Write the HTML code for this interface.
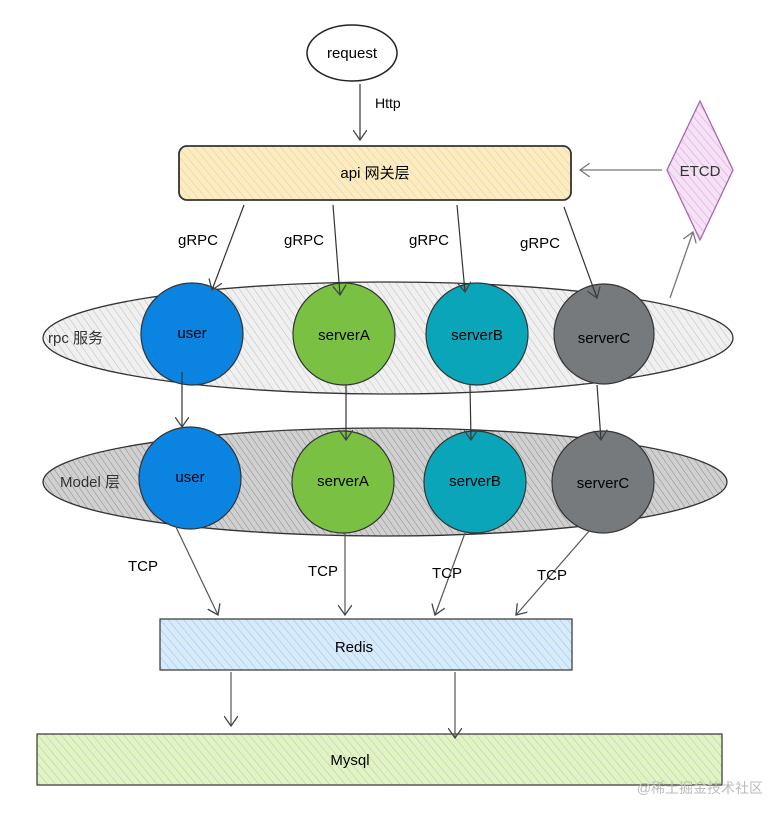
<!DOCTYPE html>
<html><head><meta charset="utf-8"><style>
html,body{margin:0;padding:0;background:#fff;}
svg{display:block;}
text{font-family:"Liberation Sans","Noto Sans CJK SC",sans-serif;}
</style></head><body>
<svg width="783" height="817" viewBox="0 0 783 817" xmlns="http://www.w3.org/2000/svg">
<defs>
<marker id="a" markerWidth="14" markerHeight="14" refX="10" refY="7" orient="auto" markerUnits="userSpaceOnUse">
<path d="M0,0 L10,7 L0,14" fill="none" stroke="#444" stroke-width="1.3"/></marker>
<marker id="g" markerWidth="14" markerHeight="14" refX="10" refY="7" orient="auto" markerUnits="userSpaceOnUse">
<path d="M0,0 L10,7 L0,14" fill="none" stroke="#777" stroke-width="1.3"/></marker>
<pattern id="h1" width="6" height="6" patternUnits="userSpaceOnUse" patternTransform="rotate(-35)">
<rect width="6" height="6" fill="#f0f0f0"/><line x1="0" y1="0" x2="0" y2="6" stroke="#bbb" stroke-width="1"/></pattern>
<pattern id="h2" width="5" height="5" patternUnits="userSpaceOnUse" patternTransform="rotate(-35)">
<rect width="5" height="5" fill="#d0d0d0"/><line x1="0" y1="0" x2="0" y2="5" stroke="#8a8a8a" stroke-width="1"/></pattern>
<pattern id="hy" width="6" height="6" patternUnits="userSpaceOnUse" patternTransform="rotate(-40)">
<rect width="6" height="6" fill="#fcecc4"/><line x1="0" y1="0" x2="0" y2="6" stroke="#f0cf8a" stroke-width="1.2"/></pattern>
<pattern id="hb" width="6" height="6" patternUnits="userSpaceOnUse" patternTransform="rotate(-40)">
<rect width="6" height="6" fill="#d8ebfa"/><line x1="0" y1="0" x2="0" y2="6" stroke="#9cc6ee" stroke-width="1.2"/></pattern>
<pattern id="hg" width="6" height="6" patternUnits="userSpaceOnUse" patternTransform="rotate(-40)">
<rect width="6" height="6" fill="#e2f2c8"/><line x1="0" y1="0" x2="0" y2="6" stroke="#b0da80" stroke-width="1.2"/></pattern>
<pattern id="hp" width="6" height="6" patternUnits="userSpaceOnUse" patternTransform="rotate(-40)">
<rect width="6" height="6" fill="#f6e2f6"/><line x1="0" y1="0" x2="0" y2="6" stroke="#dca6dc" stroke-width="1.2"/></pattern>
</defs>

<ellipse cx="352" cy="53" rx="45" ry="28" fill="#fff" stroke="#222" stroke-width="1.5"/>
<text x="352" y="58" font-size="15" text-anchor="middle">request</text>
<line x1="360" y1="84" x2="360" y2="140" stroke="#444" stroke-width="1.3" marker-end="url(#a)"/>
<text x="375" y="108" font-size="14">Http</text>

<rect x="179" y="146" width="392" height="54" rx="8" fill="url(#hy)" stroke="#333" stroke-width="1.8"/>
<text x="375" y="178" font-size="15" text-anchor="middle">api 网关层</text>

<polygon points="700,101 733,170 700,240 667,170" fill="url(#hp)" stroke="#aa66aa" stroke-width="1.3"/>
<text x="700" y="176" font-size="15" text-anchor="middle" fill="#333">ETCD</text>
<line x1="662" y1="170" x2="580" y2="170" stroke="#777" stroke-width="1.3" marker-end="url(#g)"/>

<text x="178" y="245" font-size="15">gRPC</text>
<text x="284" y="245" font-size="15">gRPC</text>
<text x="409" y="245" font-size="15">gRPC</text>
<text x="520" y="248" font-size="15">gRPC</text>

<ellipse cx="388" cy="338" rx="345" ry="56" fill="url(#h1)" stroke="#333" stroke-width="1.3"/>
<text x="48" y="343" font-size="15" fill="#333">rpc 服务</text>
<circle cx="192" cy="334" r="51" fill="#0a84e0" stroke="#333" stroke-width="1.2"/>
<text x="192" y="338" font-size="15" text-anchor="middle">user</text>
<circle cx="344" cy="334" r="51" fill="#7ac143" stroke="#333" stroke-width="1.2"/>
<text x="344" y="340" font-size="15" text-anchor="middle">serverA</text>
<circle cx="477" cy="334" r="51" fill="#0aa5b8" stroke="#333" stroke-width="1.2"/>
<text x="477" y="340" font-size="15" text-anchor="middle">serverB</text>
<circle cx="604" cy="334" r="50" fill="#777a7c" stroke="#333" stroke-width="1.2"/>
<text x="604" y="343" font-size="15" text-anchor="middle">serverC</text>

<ellipse cx="385" cy="482" rx="342" ry="54" fill="url(#h2)" stroke="#333" stroke-width="1.3"/>
<text x="60" y="487" font-size="15" fill="#333">Model 层</text>
<circle cx="190" cy="478" r="51" fill="#0a84e0" stroke="#333" stroke-width="1.2"/>
<text x="190" y="482" font-size="15" text-anchor="middle">user</text>
<circle cx="343" cy="482" r="51" fill="#7ac143" stroke="#333" stroke-width="1.2"/>
<text x="343" y="486" font-size="15" text-anchor="middle">serverA</text>
<circle cx="475" cy="482" r="51" fill="#0aa5b8" stroke="#333" stroke-width="1.2"/>
<text x="475" y="486" font-size="15" text-anchor="middle">serverB</text>
<circle cx="603" cy="482" r="51" fill="#777a7c" stroke="#333" stroke-width="1.2"/>
<text x="603" y="488" font-size="15" text-anchor="middle">serverC</text>

<line x1="244" y1="205" x2="212" y2="290" stroke="#333" stroke-width="1.2" marker-end="url(#a)"/>
<line x1="333" y1="205" x2="340" y2="295" stroke="#333" stroke-width="1.2" marker-end="url(#a)"/>
<line x1="457" y1="205" x2="465" y2="292" stroke="#333" stroke-width="1.2" marker-end="url(#a)"/>
<line x1="564" y1="207" x2="597" y2="298" stroke="#333" stroke-width="1.2" marker-end="url(#a)"/>
<line x1="670" y1="298" x2="693" y2="232" stroke="#777" stroke-width="1.3" marker-end="url(#g)"/>

<line x1="182" y1="372" x2="182" y2="427" stroke="#333" stroke-width="1.2" marker-end="url(#a)"/>
<line x1="346" y1="385" x2="346" y2="440" stroke="#333" stroke-width="1.2" marker-end="url(#a)"/>
<line x1="470" y1="385" x2="471" y2="440" stroke="#333" stroke-width="1.2" marker-end="url(#a)"/>
<line x1="597" y1="385" x2="601" y2="440" stroke="#333" stroke-width="1.2" marker-end="url(#a)"/>

<line x1="175" y1="525" x2="218" y2="615" stroke="#555" stroke-width="1.2" marker-end="url(#a)"/>
<line x1="345" y1="533" x2="345" y2="615" stroke="#555" stroke-width="1.2" marker-end="url(#a)"/>
<line x1="465" y1="533" x2="435" y2="615" stroke="#555" stroke-width="1.2" marker-end="url(#a)"/>
<line x1="590" y1="530" x2="516" y2="615" stroke="#555" stroke-width="1.2" marker-end="url(#a)"/>
<text x="128" y="571" font-size="15">TCP</text>
<text x="308" y="576" font-size="15">TCP</text>
<text x="432" y="578" font-size="15">TCP</text>
<text x="537" y="580" font-size="15">TCP</text>

<rect x="160" y="619" width="412" height="51" fill="url(#hb)" stroke="#333" stroke-width="1.2"/>
<text x="354" y="652" font-size="15" text-anchor="middle">Redis</text>

<rect x="37" y="734" width="685" height="51" fill="url(#hg)" stroke="#333" stroke-width="1.2"/>
<text x="350" y="765" font-size="15" text-anchor="middle">Mysql</text>
<line x1="231" y1="672" x2="231" y2="726" stroke="#555" stroke-width="1.2" marker-end="url(#a)"/>
<line x1="455" y1="672" x2="455" y2="738" stroke="#555" stroke-width="1.2" marker-end="url(#a)"/>
<text x="763" y="793" font-size="14" text-anchor="end" fill="#bbb">@稀土掘金技术社区</text>
</svg>
</body></html>
